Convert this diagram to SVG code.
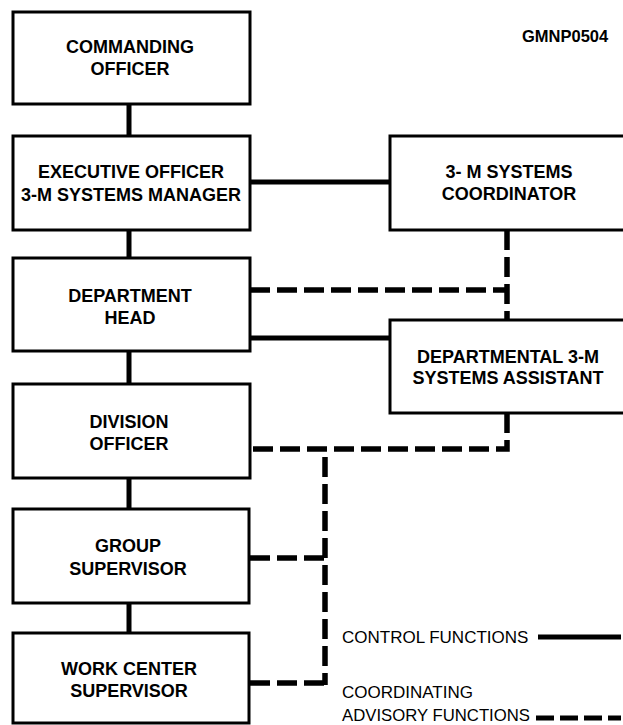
<svg xmlns="http://www.w3.org/2000/svg" width="623" height="725" viewBox="0 0 623 725">
<style>
.box{fill:#fff;stroke:#000;stroke-width:3}
.lbl{font-family:"Liberation Sans",Arial,sans-serif;font-size:18px;font-weight:bold;text-anchor:middle;fill:#000}
.leg{font-family:"Liberation Sans",Arial,sans-serif;font-size:17px;fill:#000}
.solid{fill:none;stroke:#000;stroke-width:5}
.dash{fill:none;stroke:#000;stroke-width:5.5;stroke-dasharray:20 7}
</style>
<rect x="0" y="0" width="623" height="725" fill="#fff"/>
<text x="522" y="42" font-family="Liberation Sans, Arial, sans-serif" font-size="16.5" font-weight="bold">GMNP0504</text>
<g id="connectors">
<path class="solid" d="M129 104V136M129 230V258M129 351V384M129 478V509M129 603V633M250 182H390M250 338H390"/>
<path class="dash" d="M507 230V320"/>
<path class="dash" d="M250 290H507"/>
<path class="dash" d="M507 413V449H250"/>
<path class="dash" d="M325 457V685"/>
<path class="dash" d="M250 558H325"/>
<path class="dash" d="M250 683H325"/>
</g>
<g id="co"><rect class="box" x="13" y="12" width="237" height="92"/><text class="lbl" x="130" y="53">COMMANDING</text><text class="lbl" x="130" y="75">OFFICER</text></g>
<g id="xo"><rect class="box" x="13" y="136" width="237" height="94"/><text class="lbl" x="131" y="178">EXECUTIVE OFFICER</text><text class="lbl" x="131" y="201">3-M SYSTEMS MANAGER</text></g>
<g id="coord"><rect class="box" x="390" y="136" width="240" height="94"/><text class="lbl" x="509" y="178">3- M SYSTEMS</text><text class="lbl" x="509" y="200">COORDINATOR</text></g>
<g id="dh"><rect class="box" x="13" y="258" width="237" height="93"/><text class="lbl" x="130" y="302">DEPARTMENT</text><text class="lbl" x="130" y="324">HEAD</text></g>
<g id="asst"><rect class="box" x="390" y="320" width="240" height="93"/><text class="lbl" x="508" y="363">DEPARTMENTAL 3-M</text><text class="lbl" x="508" y="384">SYSTEMS ASSISTANT</text></g>
<g id="divo"><rect class="box" x="13" y="384" width="237" height="94"/><text class="lbl" x="129" y="428">DIVISION</text><text class="lbl" x="129" y="450">OFFICER</text></g>
<g id="group"><rect class="box" x="13" y="509" width="236" height="94"/><text class="lbl" x="128" y="552">GROUP</text><text class="lbl" x="128" y="575">SUPERVISOR</text></g>
<g id="wc"><rect class="box" x="13" y="633" width="236" height="90"/><text class="lbl" x="129" y="675">WORK CENTER</text><text class="lbl" x="129" y="697">SUPERVISOR</text></g>
<g id="legend">
<text class="leg" x="342" y="643">CONTROL FUNCTIONS</text>
<path class="solid" d="M538 637H621"/>
<text class="leg" x="342" y="698">COORDINATING</text>
<text class="leg" x="342" y="721" textLength="188" lengthAdjust="spacingAndGlyphs">ADVISORY FUNCTIONS</text>
<path class="solid" d="M536 718H621" stroke-dasharray="18 6"/>
</g>
</svg>
